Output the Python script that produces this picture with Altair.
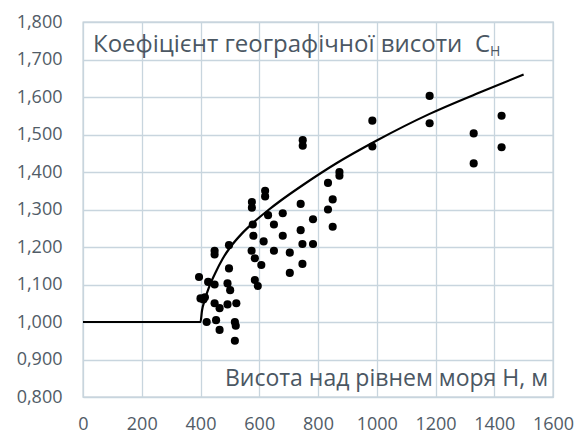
import altair as alt
import pandas as pd

# Observed points: height above sea level H (m) and coefficient C_H
dot_h = [620, 620, 575, 575, 630, 680, 578, 650, 580, 680, 615, 497, 448, 448,
         574, 585, 607, 650, 497, 395, 426, 448, 492, 501, 585, 595, 400, 410,
         415, 448, 465, 492, 522, 421, 453, 465, 517, 520, 517,
         748, 748, 985, 985, 873, 873, 834, 850, 741, 834, 783, 850, 741, 747,
         783, 704, 747, 704, 1180, 1180, 1425, 1330, 1425, 1330]
dot_c = [1.350, 1.335, 1.320, 1.305, 1.285, 1.290, 1.260, 1.260, 1.230, 1.230,
         1.215, 1.205, 1.190, 1.180, 1.190, 1.170, 1.152, 1.190, 1.143, 1.120,
         1.107, 1.100, 1.103, 1.085, 1.112, 1.096, 1.063, 1.060, 1.066, 1.050,
         1.037, 1.047, 1.050, 1.000, 1.005, 0.979, 1.000, 0.990, 0.950,
         1.485, 1.470, 1.468, 1.537, 1.400, 1.390, 1.371, 1.327, 1.315, 1.300,
         1.274, 1.254, 1.245, 1.208, 1.208, 1.185, 1.155, 1.131, 1.603, 1.530,
         1.550, 1.503, 1.466, 1.423]

# Fitted curve
curve_h = [0, 400, 405, 415, 430, 450, 475, 500, 540, 580, 630, 670, 750, 860,
           1000, 1180, 1350, 1500]
curve_c = [1.000, 1.000, 1.030, 1.060, 1.095, 1.130, 1.168, 1.198, 1.235, 1.265,
           1.298, 1.322, 1.366, 1.422, 1.484, 1.555, 1.612, 1.660]

x_ticks = [0, 200, 400, 600, 800, 1000, 1200, 1400, 1600]
y_ticks = [0.8, 0.9, 1.0, 1.1, 1.2, 1.3, 1.4, 1.5, 1.6, 1.7, 1.8]

title_text = ["Коефіцієнт географічної висоти"]
title_c = ["C"]
title_sub = ["Н"]
xlabel_text = ["Висота над рівнем моря H, м"]

dots = pd.DataFrame({"H": dot_h, "C": dot_c})
curve = pd.DataFrame({"H": curve_h, "C": curve_c})

label_color = "#515c67"
text_color = "#4b5763"
grid_color = "#c8d5de"
font = "Open Sans"

x_scale = alt.Scale(domain=[0, 1600], nice=False, zero=False)
y_scale = alt.Scale(domain=[0.8, 1.8], nice=False, zero=False)

x_axis = alt.Axis(values=x_ticks, title=None, ticks=False, domain=False,
                  labelPadding=18, grid=True, labelFlush=False,
                  labelOverlap=False, format="d", tickCount=9)
y_axis = alt.Axis(values=y_ticks, title=None, ticks=False, domain=False,
                  labelPadding=21, grid=True, labelOverlap=False, tickCount=11,
                  labelExpr="replace(format(datum.value, '.3f'), '.', ',')")

line = alt.Chart(curve).mark_line(color="black", strokeWidth=2.2,
                                  interpolate="monotone").encode(
    x=alt.X("H:Q", scale=x_scale, axis=x_axis),
    y=alt.Y("C:Q", scale=y_scale, axis=y_axis),
)

points = alt.Chart(dots).mark_circle(size=66, color="black", opacity=1).encode(
    x=alt.X("H:Q", scale=x_scale, axis=x_axis),
    y=alt.Y("C:Q", scale=y_scale, axis=y_axis),
)

title = alt.Chart(pd.DataFrame({"t": title_text})).mark_text(
    align="left", baseline="middle", font=font, fontSize=24, color=text_color
).encode(x=alt.value(10), y=alt.value(23), text="t:N")

title_c_mark = alt.Chart(pd.DataFrame({"t": title_c})).mark_text(
    align="left", baseline="middle", font=font, fontSize=24, color=text_color
).encode(x=alt.value(392), y=alt.value(23), text="t:N")

title_sub_mark = alt.Chart(pd.DataFrame({"t": title_sub})).mark_text(
    align="left", baseline="middle", font=font, fontSize=14, color=text_color
).encode(x=alt.value(407), y=alt.value(30), text="t:N")

xlabel = alt.Chart(pd.DataFrame({"t": xlabel_text})).mark_text(
    align="right", baseline="middle", font=font, fontSize=23, color=text_color
).encode(x=alt.value(465), y=alt.value(357), text="t:N")

chart = alt.layer(line, points, title, title_c_mark, title_sub_mark, xlabel).properties(
    width=470, height=375,
    padding={"left": 75, "top": 14, "right": 22, "bottom": 39},
    autosize=alt.AutoSizeParams(type="none"),
    background="white",
).configure_view(
    stroke="#b9c6cf", strokeWidth=1.3
).configure_axis(
    labelFont=font, labelFontSize=18, labelColor=label_color,
    gridColor=grid_color, gridWidth=1.3, gridOpacity=1,
)

chart.save("out.html", embed_options={"renderer": "svg", "actions": False})
